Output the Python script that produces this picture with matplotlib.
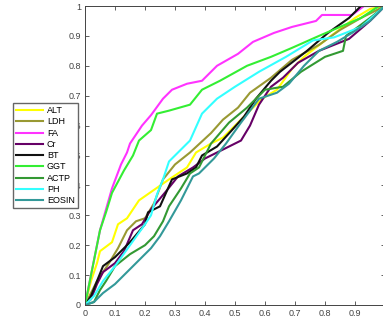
import matplotlib
matplotlib.use("Agg")
import matplotlib.pyplot as plt

plt.rcParams['font.family'] = ['Liberation Sans', 'DejaVu Sans']

# ROC curves (false positive rate, true positive rate)
alt_x = [0, 0.01, 0.02, 0.04, 0.05, 0.09, 0.11, 0.14, 0.18, 0.23, 0.28, 0.34, 0.37, 0.42, 0.46, 0.51, 0.55, 0.59, 0.64, 0.69, 0.73, 0.82, 0.9, 0.95, 1]
alt_y = [0, 0.04, 0.08, 0.14, 0.18, 0.21, 0.27, 0.29, 0.35, 0.385, 0.42, 0.46, 0.51, 0.54, 0.56, 0.61, 0.65, 0.69, 0.72, 0.79, 0.83, 0.9, 0.96, 0.99, 1]
ldh_x = [0, 0.02, 0.04, 0.08, 0.11, 0.14, 0.17, 0.2, 0.23, 0.26, 0.3, 0.35, 0.42, 0.46, 0.51, 0.55, 0.62, 0.69, 0.78, 0.85, 0.92, 1]
ldh_y = [0, 0.04, 0.08, 0.14, 0.19, 0.25, 0.28, 0.29, 0.34, 0.42, 0.47, 0.51, 0.575, 0.62, 0.66, 0.71, 0.76, 0.82, 0.87, 0.92, 0.96, 1]
fa_x = [0, 0.01, 0.02, 0.03, 0.04, 0.05, 0.07, 0.09, 0.12, 0.14, 0.15, 0.19, 0.22, 0.26, 0.29, 0.34, 0.39, 0.44, 0.51, 0.56, 0.63, 0.69, 0.77, 0.79, 0.89, 0.93, 1]
fa_y = [0, 0.05, 0.1, 0.15, 0.2, 0.25, 0.32, 0.39, 0.47, 0.51, 0.54, 0.6, 0.635, 0.69, 0.72, 0.74, 0.75, 0.8, 0.84, 0.88, 0.91, 0.93, 0.95, 0.97, 0.97, 1, 1]
cr_x = [0, 0.02, 0.04, 0.06, 0.1, 0.13, 0.16, 0.19, 0.22, 0.27, 0.31, 0.36, 0.4, 0.46, 0.52, 0.55, 0.58, 0.62, 0.66, 0.71, 0.78, 0.88, 0.95, 0.98, 1]
cr_y = [0, 0.02, 0.07, 0.11, 0.14, 0.18, 0.25, 0.27, 0.32, 0.38, 0.43, 0.46, 0.49, 0.52, 0.55, 0.6, 0.67, 0.73, 0.76, 0.81, 0.85, 0.89, 0.95, 0.98, 1]
bt_x = [0, 0.02, 0.04, 0.06, 0.1, 0.15, 0.2, 0.21, 0.25, 0.29, 0.34, 0.37, 0.39, 0.44, 0.49, 0.53, 0.57, 0.62, 0.65, 0.74, 0.81, 0.88, 0.92, 1]
bt_y = [0, 0.03, 0.08, 0.13, 0.16, 0.21, 0.27, 0.31, 0.33, 0.42, 0.44, 0.46, 0.5, 0.53, 0.585, 0.63, 0.69, 0.75, 0.78, 0.85, 0.91, 0.96, 1, 1]
ggt_x = [0, 0.01, 0.02, 0.03, 0.05, 0.07, 0.09, 0.13, 0.16, 0.18, 0.22, 0.24, 0.28, 0.35, 0.39, 0.45, 0.54, 0.62, 0.69, 0.78, 0.85, 0.92, 0.98, 1]
ggt_y = [0, 0.05, 0.1, 0.15, 0.25, 0.31, 0.375, 0.45, 0.5, 0.55, 0.585, 0.64, 0.65, 0.67, 0.72, 0.75, 0.8, 0.83, 0.86, 0.9, 0.93, 0.96, 1, 1]
actp_x = [0, 0.03, 0.05, 0.07, 0.1, 0.15, 0.2, 0.23, 0.26, 0.28, 0.32, 0.35, 0.38, 0.42, 0.48, 0.54, 0.6, 0.66, 0.72, 0.8, 0.86, 0.87, 0.95, 1]
actp_y = [0, 0.01, 0.05, 0.08, 0.13, 0.17, 0.2, 0.23, 0.28, 0.33, 0.39, 0.44, 0.46, 0.54, 0.61, 0.66, 0.72, 0.73, 0.78, 0.83, 0.85, 0.9, 0.96, 1]
ph_x = [0, 0.03, 0.06, 0.1, 0.15, 0.2, 0.22, 0.24, 0.26, 0.28, 0.35, 0.39, 0.44, 0.5, 0.58, 0.67, 0.76, 0.83, 0.92, 1]
ph_y = [0, 0.03, 0.08, 0.13, 0.2, 0.27, 0.3, 0.37, 0.42, 0.48, 0.55, 0.64, 0.69, 0.73, 0.78, 0.83, 0.885, 0.895, 0.93, 1]
eos_x = [0, 0.03, 0.06, 0.1, 0.14, 0.17, 0.22, 0.25, 0.28, 0.32, 0.36, 0.38, 0.43, 0.47, 0.52, 0.58, 0.64, 0.68, 0.73, 0.78, 0.84, 0.89, 0.95, 1]
eos_y = [0, 0.01, 0.04, 0.07, 0.11, 0.14, 0.19, 0.23, 0.28, 0.35, 0.43, 0.44, 0.49, 0.54, 0.61, 0.69, 0.71, 0.74, 0.8, 0.85, 0.88, 0.91, 0.95, 1]

series = [
    ("ALT", alt_x, alt_y, "#ffff00"),
    ("LDH", ldh_x, ldh_y, "#999933"),
    ("FA", fa_x, fa_y, "#ff33ff"),
    ("Cr", cr_x, cr_y, "#660066"),
    ("BT", bt_x, bt_y, "#111111"),
    ("GGT", ggt_x, ggt_y, "#33ee33"),
    ("ACTP", actp_x, actp_y, "#339933"),
    ("PH", ph_x, ph_y, "#33ffff"),
    ("EOSIN", eos_x, eos_y, "#339999"),
]

fig = plt.figure(figsize=(3.83, 3.24), dpi=100)
ax = fig.add_axes([85 / 383, 19 / 324, 300 / 383, 299 / 324])

for name, xs, ys, c in series:
    ax.plot(xs, ys, color=c, lw=1.5, label=name)

ax.set_xlim(0, 1)
ax.set_ylim(0, 1)
ax.set_xticks([i / 10 for i in range(11)])
ax.set_xticklabels(["0", "0.1", "0.2", "0.3", "0.4", "0.5", "0.6", "0.7", "0.8", "0.9", ""])
ax.set_yticks([i / 10 for i in range(11)])
ax.set_yticklabels(["0", "0.1", "0.2", "0.3", "0.4", "0.5", "0.6", "0.7", "0.8", "0.9", "1"])
ax.tick_params(direction="in", top=True, right=True, labelsize=6.5,
               length=3, width=0.6, colors="#444444", pad=3)
for s in ax.spines.values():
    s.set_color("#444444")
    s.set_linewidth(0.7)

fig.legend(loc="upper left", bbox_to_anchor=(13 / 383, 1 - 103 / 324),
           fontsize=6.5, frameon=True, fancybox=False, edgecolor="#666666",
           framealpha=1, handlelength=3.0, handletextpad=0.4,
           labelspacing=0.25, borderpad=0.35, borderaxespad=0)

fig.savefig("out.png", dpi=100)
